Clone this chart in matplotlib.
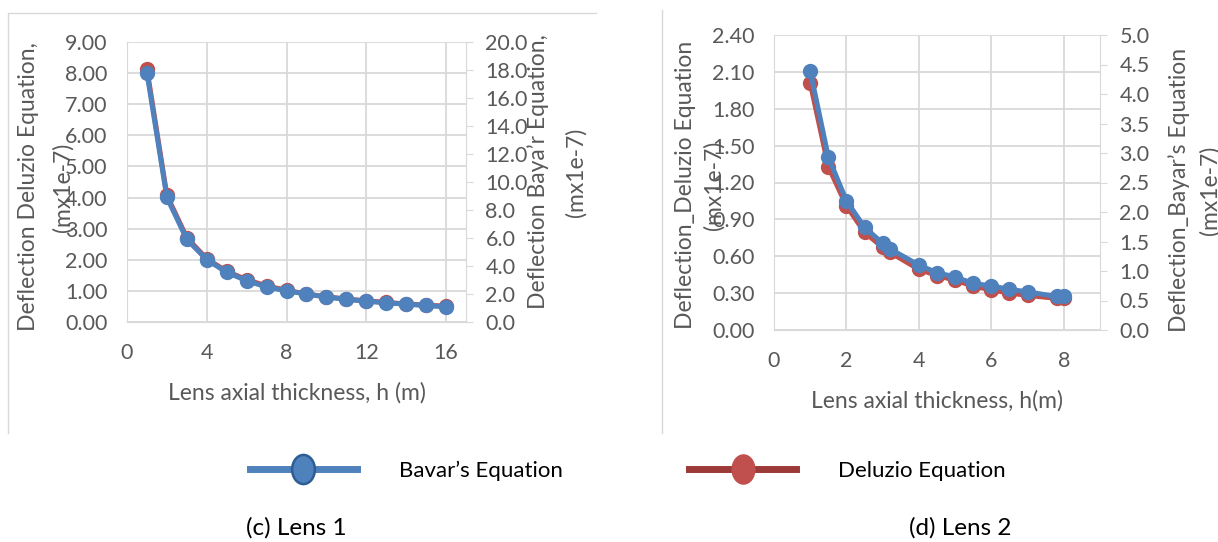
import matplotlib
matplotlib.use("Agg")
import matplotlib.pyplot as plt
from matplotlib.lines import Line2D
from matplotlib.path import Path
from matplotlib.transforms import Affine2D

plt.rcParams['font.family'] = ['Lato', 'DejaVu Sans']

# === data: Lens 1 ===
h1 = [1, 2, 3, 4, 5, 6, 7, 8, 9, 10, 11, 12, 13, 14, 15, 16]
deluzio1 = [8.13, 4.07, 2.71, 2.03, 1.63, 1.36, 1.16, 1.02, 0.90, 0.81, 0.74, 0.68, 0.63, 0.58, 0.54, 0.51]
bayar1 = [17.8, 8.9, 5.9, 4.45, 3.55, 2.95, 2.5, 2.22, 2.0, 1.78, 1.62, 1.48, 1.37, 1.27, 1.18, 1.08]

# === data: Lens 2 ===
h2 = [1, 1.5, 2, 2.5, 3, 3.2, 4, 4.5, 5, 5.5, 6, 6.5, 7, 7.8, 8]
deluzio2 = [2.01, 1.33, 1.01, 0.795, 0.672, 0.632, 0.493, 0.443, 0.405, 0.357, 0.326, 0.300, 0.282, 0.257, 0.257]
bayar2 = [4.39, 2.93, 2.19, 1.74, 1.47, 1.375, 1.10, 0.97, 0.90, 0.79, 0.746, 0.69, 0.646, 0.568, 0.568]

BLUE = "#4f81bd"
RED = "#c0504d"
GRID = "#d9d9d9"
TXT = "#595959"
FS_TICK = 15.5
FS_LAB = 16.5
FS_LEG = 16
FS_CAP = 17.5

# vertical ellipse marker for the legend
ellipse = Path.unit_circle().transformed(Affine2D().scale(0.78, 1.0))

fig = plt.figure(figsize=(12.18, 5.42), dpi=100)


def fx(px):
    return px / 1218


def fy(py):
    return 1 - py / 542


def setup(ax, ax2, xlim, xticks, ylim, yticks, yfmt, y2lim, y2ticks, y2fmt):
    ax.set_xlim(*xlim)
    ax.set_xticks(xticks)
    ax.set_ylim(*ylim)
    ax.set_yticks(yticks)
    ax.set_yticklabels([yfmt.format(v) for v in yticks])
    ax2.set_ylim(*y2lim)
    ax2.set_yticks(y2ticks)
    ax2.set_yticklabels([y2fmt.format(v) for v in y2ticks])
    ax.grid(True, color=GRID, lw=1.3)
    ax.set_axisbelow(True)
    for a in (ax, ax2):
        for s in a.spines.values():
            s.set_visible(False)
    ax.spines['left'].set_visible(True)
    ax.spines['bottom'].set_visible(True)
    ax.spines['left'].set_color(GRID)
    ax.spines['bottom'].set_color(GRID)
    ax2.spines['right'].set_visible(True)
    ax2.spines['right'].set_color(GRID)
    ax.tick_params(length=0, labelsize=FS_TICK, labelcolor=TXT)
    ax.tick_params(axis='y', pad=14)
    ax.tick_params(axis='x', pad=15)
    ax2.tick_params(axis='y', length=5, color=GRID, labelsize=FS_TICK, labelcolor=TXT, pad=9)


# === (c) Lens 1 ===
ax1 = fig.add_axes([fx(127), fy(322), fx(466 - 127), (322 - 42) / 542])
ax1b = ax1.twinx()
ax1.plot(h1, deluzio1, color=RED, lw=3.6, marker='o', ms=10)
ax1b.plot(h1, bayar1, color=BLUE, lw=3.6, marker='o', ms=10)
setup(ax1, ax1b, (0, 17), [0, 4, 8, 12, 16], (0, 9), [0, 1, 2, 3, 4, 5, 6, 7, 8, 9], "{:.2f}",
      (0, 20), [0, 2, 4, 6, 8, 10, 12, 14, 16, 18, 20], "{:.1f}")
ax1.set_xlabel("Lens axial thickness, h (m)", fontsize=FS_LAB, color=TXT, labelpad=14)

# === (d) Lens 2 ===
ax2 = fig.add_axes([fx(774), fy(330), fx(1100 - 774), (330 - 35) / 542])
ax2b = ax2.twinx()
ax2.plot(h2, deluzio2, color=RED, lw=3.6, marker='o', ms=10)
ax2b.plot(h2, bayar2, color=BLUE, lw=3.6, marker='o', ms=10)
setup(ax2, ax2b, (0, 9), [0, 2, 4, 6, 8], (0, 2.4), [0, 0.3, 0.6, 0.9, 1.2, 1.5, 1.8, 2.1, 2.4], "{:.2f}",
      (0, 5), [0, 0.5, 1, 1.5, 2, 2.5, 3, 3.5, 4, 4.5, 5], "{:.1f}")
ax2.set_xlabel("Lens axial thickness, h(m)", fontsize=FS_LAB, color=TXT, labelpad=14)

# === y labels (two lines, overlapping the ticks like the original) ===
lab = dict(rotation=90, ha='center', va='center', fontsize=FS_LAB, color=TXT, multialignment='center')
fig.text(fx(46), fy(187), "Deflection Deluzio Equation,\n(mx1e-7)", linespacing=1.75, **lab)
fig.text(fx(557), fy(172), "Deflection Baya\u2019r Equation,\n(mx1e-7)", linespacing=1.9, **lab)
fig.text(fx(700), fy(185), "Deflection_Deluzio Equation\n(mx1e-7)", linespacing=1.43, **lab)
fig.text(fx(1194), fy(190), "Deflection_Bayar\u2019s Equation\n(mx1e-7)", linespacing=1.53, **lab)

# === frame lines of the original panels ===
fig.add_artist(Line2D([fx(8), fx(8), fx(596)], [fy(433), fy(13), fy(13)], color=GRID, lw=1))
fig.add_artist(Line2D([fx(662), fx(662)], [fy(10), fy(433)], color=GRID, lw=1))

# === shared legend ===
handles = [
    Line2D([], [], color=BLUE, lw=5, marker=ellipse, ms=21, mfc=BLUE, mec="#2e5d96", mew=1.8),
    Line2D([], [], color="#9b3a37", lw=5, marker=ellipse, ms=21, mfc=RED, mec=RED),
]
fig.legend(handles, ["Bavar\u2019s Equation", "Deluzio Equation"], loc='center left',
           bbox_to_anchor=(fx(230), fy(471)), ncol=2, frameon=False, fontsize=FS_LEG,
           handlelength=4.8, handletextpad=1.9, columnspacing=5.7)

# === captions ===
fig.text(fx(296), fy(528), "(c) Lens 1", ha='center', va='center', fontsize=FS_CAP)
fig.text(fx(960), fy(528), "(d) Lens 2", ha='center', va='center', fontsize=FS_CAP)

plt.savefig("out.png", dpi=100)
